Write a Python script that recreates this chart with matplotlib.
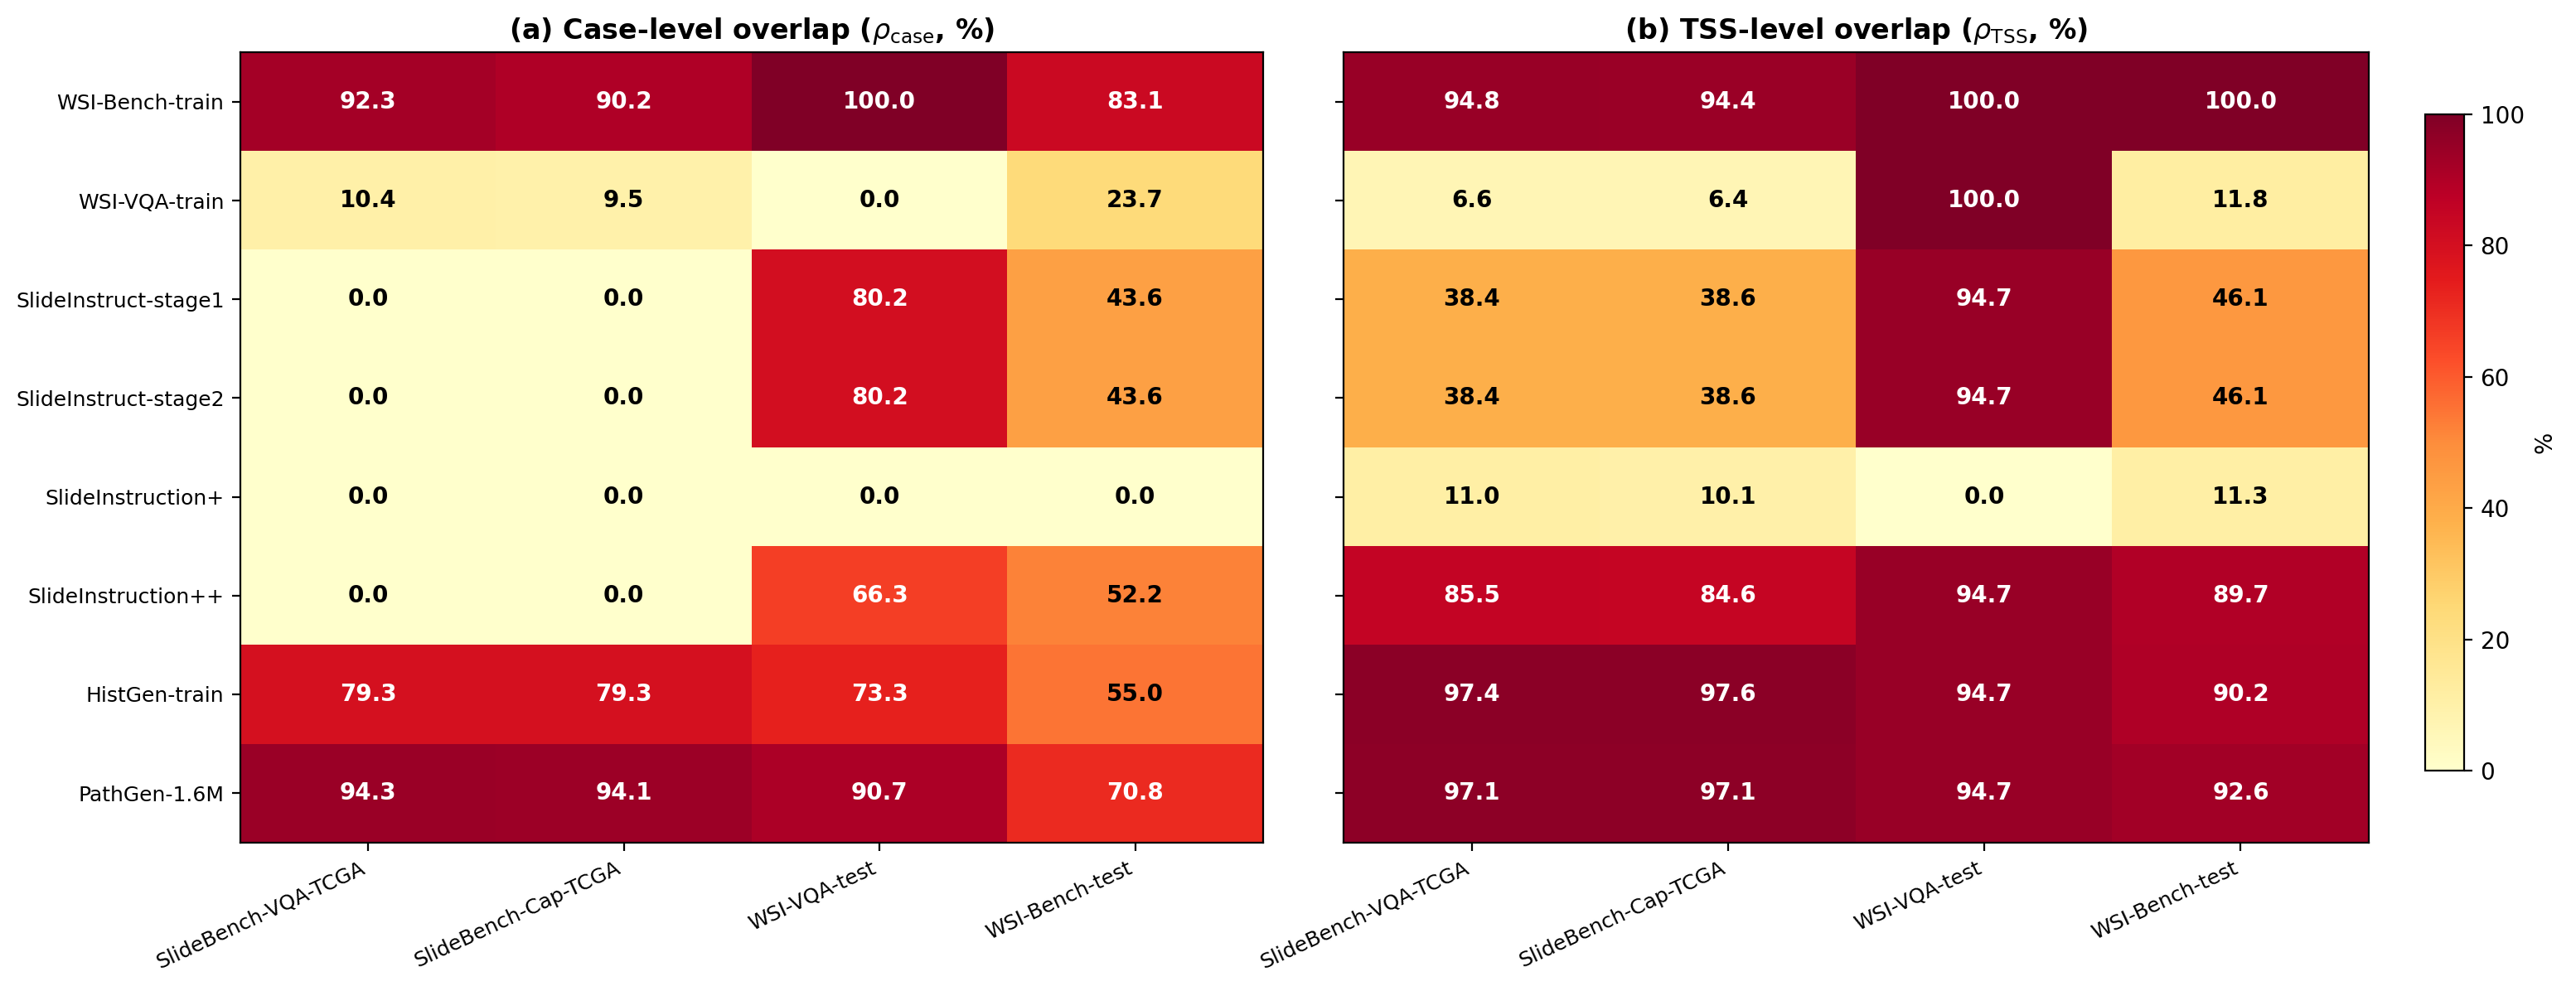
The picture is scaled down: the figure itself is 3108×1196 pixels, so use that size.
import numpy as np
import matplotlib.pyplot as plt

train_sets = ['WSI-Bench-train', 'WSI-VQA-train', 'SlideInstruct-stage1', 'SlideInstruct-stage2',
              'SlideInstruction+', 'SlideInstruction++', 'HistGen-train', 'PathGen-1.6M']
test_sets = ['SlideBench-VQA-TCGA', 'SlideBench-Cap-TCGA', 'WSI-VQA-test', 'WSI-Bench-test']

case_overlap = np.array([
    [92.3, 90.2, 100.0, 83.1],
    [10.4, 9.5, 0.0, 23.7],
    [0.0, 0.0, 80.2, 43.6],
    [0.0, 0.0, 80.2, 43.6],
    [0.0, 0.0, 0.0, 0.0],
    [0.0, 0.0, 66.3, 52.2],
    [79.3, 79.3, 73.3, 55.0],
    [94.3, 94.1, 90.7, 70.8],
])

tss_overlap = np.array([
    [94.8, 94.4, 100.0, 100.0],
    [6.6, 6.4, 100.0, 11.8],
    [38.4, 38.6, 94.7, 46.1],
    [38.4, 38.6, 94.7, 46.1],
    [11.0, 10.1, 0.0, 11.3],
    [85.5, 84.6, 94.7, 89.7],
    [97.4, 97.6, 94.7, 90.2],
    [97.1, 97.1, 94.7, 92.6],
])

titles = [r'(a) Case-level overlap ($\rho_{\mathrm{case}}$, %)',
          r'(b) TSS-level overlap ($\rho_{\mathrm{TSS}}$, %)']

fig = plt.figure(figsize=(15.54, 5.98), dpi=200)
ax1 = fig.add_axes([0.0933, 0.150, 0.3970, 0.797])
ax2 = fig.add_axes([0.5216, 0.150, 0.3980, 0.797])
cax = fig.add_axes([0.9415, 0.222, 0.0151, 0.663])

for ax, data, title in zip([ax1, ax2], [case_overlap, tss_overlap], titles):
    im = ax.imshow(data, cmap='YlOrRd', vmin=0, vmax=100, aspect='auto')
    ax.set_xticks(np.arange(len(test_sets)))
    ax.set_xticklabels(test_sets, rotation=25, ha='right', fontsize=9)
    ax.set_yticks(np.arange(len(train_sets)))
    ax.set_title(title, fontsize=12, fontweight='bold')
    for i in range(data.shape[0]):
        for j in range(data.shape[1]):
            v = data[i, j]
            ax.text(j, i, '%.1f' % v, ha='center', va='center', fontsize=10,
                    fontweight='bold', color='white' if v > 60 else 'black')

ax1.set_yticklabels(train_sets, fontsize=9)
ax2.set_yticklabels([])

cb = fig.colorbar(im, cax=cax)
cb.set_label('%', fontsize=10)
cb.ax.tick_params(labelsize=10)

plt.savefig('out.png', dpi=200)
